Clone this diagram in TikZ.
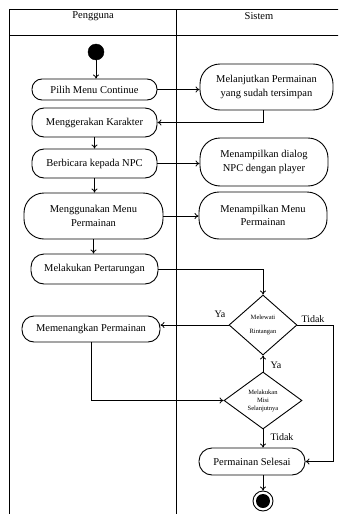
\documentclass[tikz,border=0pt]{standalone}
\usepackage{fontspec}
\setmainfont{Liberation Serif}
\usetikzlibrary{arrows.meta,shapes.geometric}
\begin{document}
\begin{tikzpicture}[x=1pt,y=-1pt,
  act/.style={draw, line width=0.9pt, rounded corners=#1, align=center, inner sep=1pt, font=\fontsize{10.5}{13.5}\selectfont},
  act/.default=10pt,
  dec/.style={draw, diamond, line width=0.9pt, inner sep=0pt, align=center, font=\fontsize{6.5}{8}\selectfont},
  arr/.style={line width=0.8pt, -{To[length=4pt,width=6pt]}},
  lab/.style={font=\fontsize{10}{12}\selectfont, inner sep=1pt},
  hdr/.style={font=\fontsize{10.5}{12}\selectfont, inner sep=1pt},
  frame/.style={line width=0.9pt}]
\useasboundingbox (0,0) rectangle (338,514);
\begin{scope}
\clip (0,0) rectangle (338,514);
\draw[frame] (9,520) |- (345,9);
\draw[frame] (9,35) -- (345,35);
\draw[frame] (176,9) -- (176,520);
\end{scope}
\node[hdr] (hp) at (93,16.5) {Pengguna};
\node[hdr] (hs) at (259,16.5) {Sistem};

\node[draw, circle, fill=black, minimum size=16pt, inner sep=0pt] (start) at (96,52) {};
\node[act, minimum width=125pt, minimum height=21pt] (pilih) at (94.5,89.5) {Pilih Menu Continue};
\node[act=20pt, minimum width=133pt, minimum height=46pt] (lanjut) at (266.5,87) {Melanjutkan Permainan\\yang sudah tersimpan};
\node[act=12pt, minimum width=125pt, minimum height=29pt] (gerak) at (94.5,122.5) {Menggerakan Karakter};
\node[act=12pt, minimum width=125pt, minimum height=29pt] (bicara) at (94.5,163.5) {Berbicara kepada NPC};
\node[act=20pt, minimum width=128pt, minimum height=48pt] (dialog) at (264,162) {Menampilkan dialog\\NPC dengan player};
\node[act=20pt, minimum width=139pt, minimum height=46pt] (guna) at (93.5,216) {Menggunakan Menu\\Permainan};
\node[act=20pt, minimum width=128pt, minimum height=47pt] (tampil) at (263,215.5) {Menampilkan Menu\\Permainan};
\node[act=13pt, minimum width=127pt, minimum height=30pt] (tarung) at (94.5,269) {Melakukan Pertarungan};
\node[dec, minimum width=68pt, minimum height=60pt, shape aspect=1.1] (d1) at (263,325) {Melewati\\[6pt]Rintangan};
\node[act=12pt, minimum width=138pt, minimum height=26pt] (menang) at (91,329) {Memenangkan Permainan};
\node[dec, minimum width=78pt, minimum height=57pt, shape aspect=1.4] (d2) at (263,400.5) {Melakukan\\Misi\\Selanjutnya};
\node[act=13pt, minimum width=106pt, minimum height=27pt] (selesai) at (252,461.5) {Permainan Selesai};
\node[draw, circle, line width=0.9pt, minimum size=20pt, inner sep=0pt] (end) at (263,501) {};
\node[circle, fill=black, minimum size=14pt, inner sep=0pt] (endin) at (end.center) {};

\coordinate (rc) at (333,0);

\draw[arr] (start.south) -- (start.south |- pilih.north);
\draw[arr] (pilih.east) -- (pilih.east -| lanjut.west);
\draw[arr] (lanjut.south -| d1.north) |- (gerak.east);
\draw[arr] (gerak.south) -- (bicara.north);
\draw[arr] (bicara.east) -- (bicara.east -| dialog.west);
\draw[arr] (bicara.south) -- (bicara.south |- guna.north);
\draw[arr] (guna.east) -- (guna.east -| tampil.west);
\draw[arr] (guna.south |- guna.south) -- (guna.south |- tarung.north);
\draw[arr] (tarung.east) -| (d1.north);
\draw[arr] (d1.west) -- (d1.west -| menang.east);
\draw[arr] (d1.east) -- (d1.east -| rc) -- (rc |- selesai.east) -- (selesai.east);
\draw[arr] (menang.south) |- (d2.west);
\draw[arr] (d2.north) -- (d1.south);
\draw[arr] (d2.south) -- (d2.south |- selesai.north);
\draw[arr] (selesai.south -| end.north) -- (end.north);

\node[lab] (ya1) at (220,314) {Ya};
\node[lab] (tidak1) at (313,319) {Tidak};
\node[lab] (ya2) at (276,365) {Ya};
\node[lab] (tidak2) at (282,437) {Tidak};
\end{tikzpicture}
\end{document}
